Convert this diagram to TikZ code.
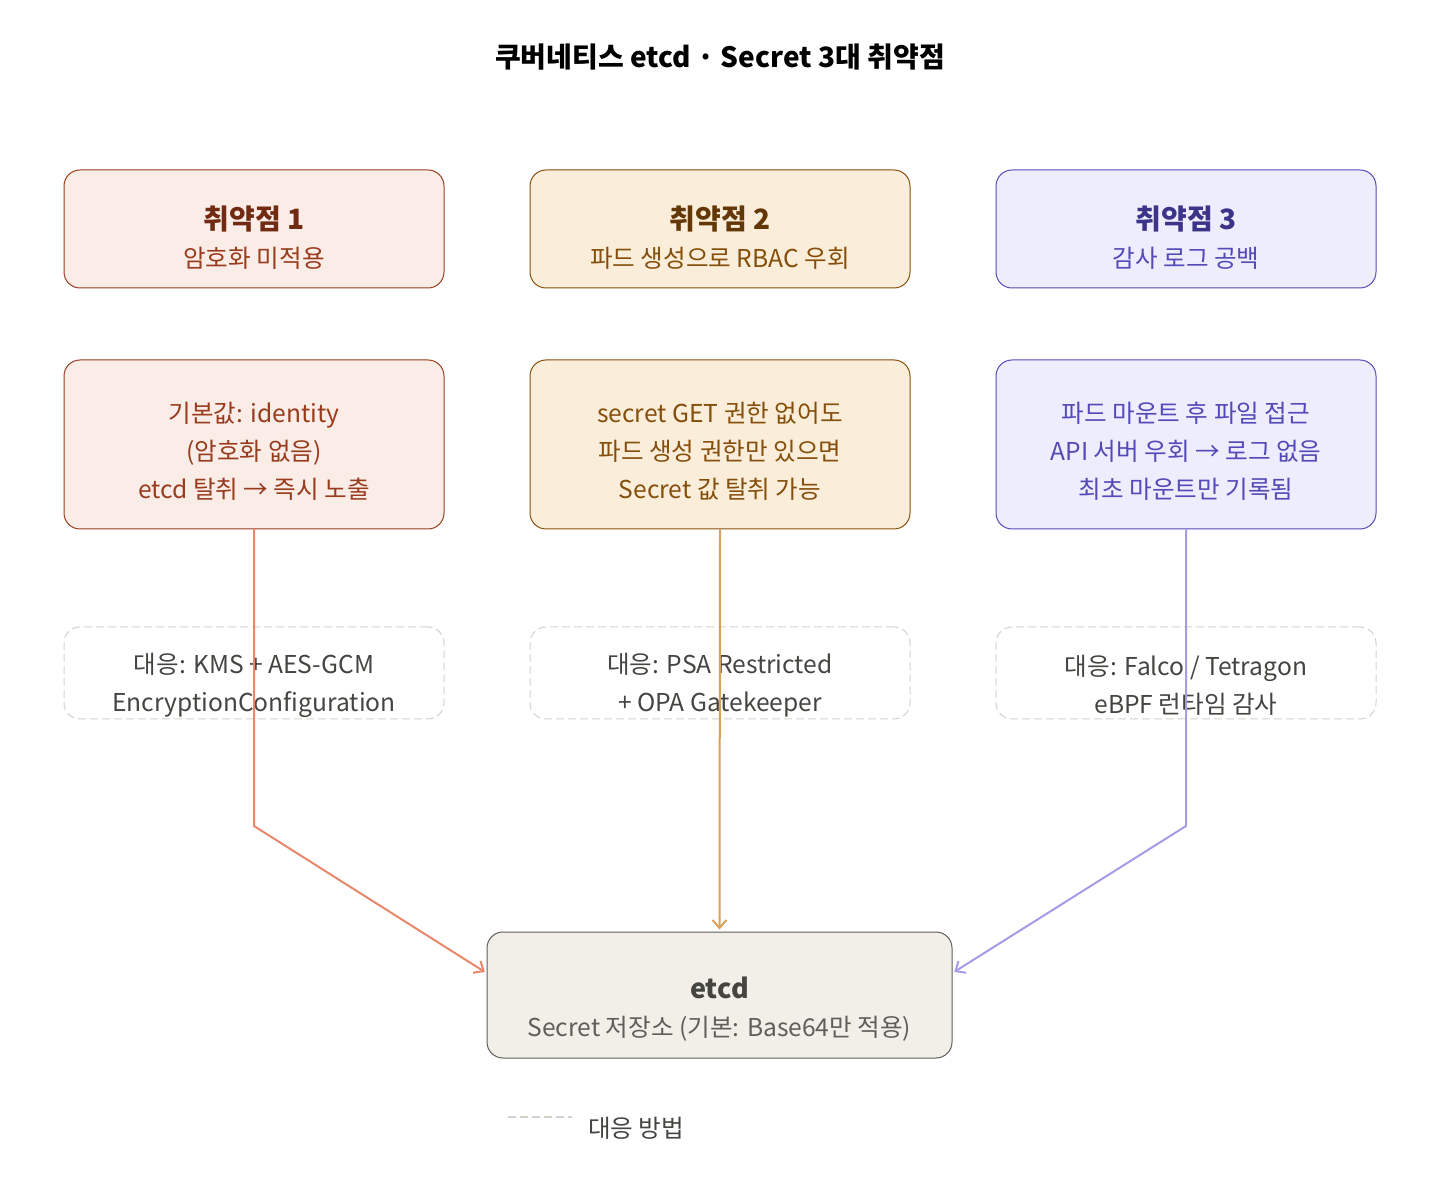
\documentclass[tikz,border=0pt]{standalone}
\usepackage{fontspec}
\setmainfont{Noto Sans CJK KR}
\usetikzlibrary{positioning,arrows.meta}
\definecolor{redfill}{HTML}{FAECE7}
\definecolor{redline}{HTML}{993C1D}
\definecolor{redtitle}{HTML}{712B13}
\definecolor{ambfill}{HTML}{FAEEDA}
\definecolor{ambline}{HTML}{854F0B}
\definecolor{ambtitle}{HTML}{633806}
\definecolor{purfill}{HTML}{EEEDFE}
\definecolor{purline}{HTML}{534AB7}
\definecolor{purtitle}{HTML}{3C3489}
\definecolor{grayfill}{HTML}{F1EFE8}
\definecolor{grayline}{HTML}{5F5E5A}
\definecolor{graytext}{HTML}{444441}
\definecolor{dashline}{HTML}{D3D1C7}
\definecolor{redarrow}{HTML}{E8876A}
\definecolor{ambarrow}{HTML}{D9A05B}
\definecolor{purarrow}{HTML}{A59CE8}
\newcommand\boxhead[1]{{\fontsize{14}{19}\selectfont\bfseries #1}}
\begin{document}
\begin{tikzpicture}[x=0.5pt,y=-0.5pt,
  box/.style={draw,rounded corners=8pt,minimum width=190pt,line width=0.5pt},
  txt/.style={align=center,font=\fontsize{12.3}{19}\selectfont},
  redbox/.style={box,fill=redfill,draw=redline},
  ambbox/.style={box,fill=ambfill,draw=ambline},
  purbox/.style={box,fill=purfill,draw=purline},
  fixbox/.style={box,draw=dashline,dash pattern=on 4pt off 2pt},
  flow/.style={-{Straight Barb[length=4pt,width=7pt]},line width=1pt,shorten >=1pt}]
\useasboundingbox (0,0) rectangle (1440,1186);
\node[font=\fontsize{14}{17}\selectfont\bfseries,text=black] (title) at (720,57)
  {쿠버네티스 etcd · Secret 3대 취약점};
% vulnerabilities
\node[redbox,minimum height=59pt] (vul1) at (254,229) {};
\node[ambbox,minimum height=59pt] (vul2) at (720,229) {};
\node[purbox,minimum height=59pt] (vul3) at (1186,229) {};
\node[txt,text=redline] (vul1t) at ([yshift=-4.5pt]vul1.center)
  {\boxhead{\color{redtitle}취약점 1}\\암호화 미적용};
\node[txt,text=ambline] (vul2t) at ([yshift=-4.5pt]vul2.center)
  {\boxhead{\color{ambtitle}취약점 2}\\파드 생성으로 RBAC 우회};
\node[txt,text=purline] (vul3t) at ([yshift=-4.5pt]vul3.center)
  {\boxhead{\color{purtitle}취약점 3}\\감사 로그 공백};
% details
\node[redbox,minimum height=84.5pt] (det1) at (254,444.5) {};
\node[ambbox,minimum height=84.5pt] (det2) at (720,444.5) {};
\node[purbox,minimum height=84.5pt] (det3) at (1186,444.5) {};
\node[txt,text=redline] (det1t) at ([yshift=-3.5pt]det1.center)
  {기본값: identity\\(암호화 없음)\\etcd 탈취 → 즉시 노출};
\node[txt,text=ambline] (det2t) at ([yshift=-3.5pt]det2.center)
  {secret GET 권한 없어도\\파드 생성 권한만 있으면\\Secret 값 탈취 가능};
\node[txt,text=purline] (det3t) at ([yshift=-3.5pt]det3.center)
  {파드 마운트 후 파일 접근\\API 서버 우회 → 로그 없음\\최초 마운트만 기록됨};
% fixes
\node[fixbox,minimum height=46pt] (fix1) at (254,673) {};
\node[fixbox,minimum height=46pt] (fix2) at (720,673) {};
\node[fixbox,minimum height=46pt] (fix3) at (1186,673) {};
\node[txt,text=graytext] (fix1t) at ([yshift=-6pt]fix1.center)
  {대응: KMS + AES-GCM\\EncryptionConfiguration};
\node[txt,text=graytext] (fix2t) at ([yshift=-6pt]fix2.center)
  {대응: PSA Restricted\\+ OPA Gatekeeper};
\node[txt,text=graytext] (fix3t) at ([yshift=-6pt]fix3.center)
  {대응: Falco / Tetragon\\eBPF 런타임 감사};
% store
\node[box,fill=grayfill,draw=grayline,minimum width=232.5pt,minimum height=63pt] (etcd) at (719.5,995) {};
\node[txt,text=grayline] (etcdt) at ([yshift=-7pt]etcd.center)
  {{\fontsize{13.5}{19}\selectfont\bfseries\color{graytext}etcd}\\Secret 저장소 (기본: Base64만 적용)};
\coordinate (bend1) at (254,826);
\coordinate (bend3) at (1186,826);
\draw[flow,redarrow] (det1.south) -- (bend1) -- ([yshift=11pt]etcd.west);
\draw[flow,ambarrow] (det2.south) -- (etcd.north);
\draw[flow,purarrow] (det3.south) -- (bend3) -- ([yshift=11pt]etcd.east);
% legend
\coordinate (leg1) at (508,1117);
\coordinate (leg2) at (572,1117);
\draw[dashline,line width=1pt,dash pattern=on 4pt off 2pt] (leg1) -- (leg2);
\node[anchor=west,text=graytext,font=\fontsize{12.3}{19}\selectfont] (legtext) at (581,1128) {대응 방법};
\end{tikzpicture}
\end{document}
